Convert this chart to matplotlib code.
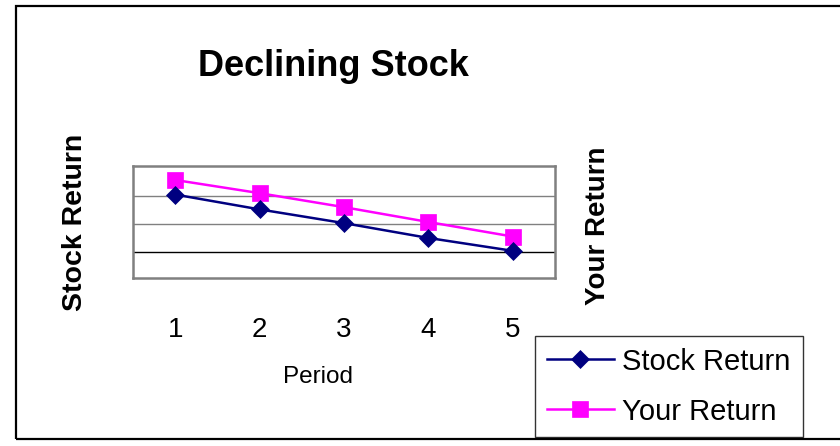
import matplotlib.pyplot as plt
from matplotlib.patches import Rectangle

plt.rcParams['font.family'] = ['Liberation Sans', 'DejaVu Sans']

# Returns per period
periods = [1, 2, 3, 4, 5]
stock_return = [0.205, 0.152, 0.103, 0.05, 0.004]
your_return = [0.257, 0.21, 0.16, 0.107, 0.055]

W, H = 840, 446
fig = plt.figure(figsize=(W / 100, H / 100), dpi=100)

def fx(px):
    return px / W

def fy(py):
    return 1 - py / H

# outer chart border (right edge runs off the canvas)
fig.patches.append(Rectangle((fx(15.5), fy(439)), fx(840) - fx(15.5) + 0.02, fy(6) - fy(439),
                             transform=fig.transFigure, fill=False, edgecolor='black',
                             linewidth=1.6, zorder=0))

ax = fig.add_axes([fx(133), fy(278), fx(555) - fx(133), fy(166) - fy(278)])
ax.plot(periods, stock_return, color='#000080', linewidth=1.8, marker='D',
        markersize=9.5, markeredgewidth=0.5, label='Stock Return', zorder=4)
ax.plot(periods, your_return, color='#FF00FF', linewidth=1.8, marker='s',
        markersize=11, markeredgewidth=0.5, label='Your Return', zorder=3)

ax.set_xlim(0.5, 5.5)
ax.set_ylim(-0.093, 0.307)
for yv in [0.1, 0.2]:
    ax.axhline(yv, color='#808080', linewidth=1.0, zorder=1)
ax.axhline(0.0, color='black', linewidth=1.0, zorder=1)

ax.set_yticks([])
ax.set_xticks(periods)
ax.set_xticklabels([str(p) for p in periods], fontsize=20)
ax.tick_params(axis='x', length=0, pad=28)
for s in ax.spines.values():
    s.set_color('#808080')
    s.set_linewidth(1.8)

fig.text(fx(333), fy(66), 'Declining Stock', fontsize=26, fontweight='bold',
         ha='center', va='center')
fig.text(fx(75), fy(222), 'Stock Return', fontsize=20.5, fontweight='bold',
         rotation=90, ha='center', va='center')
fig.text(fx(598), fy(226), 'Your Return', fontsize=20, fontweight='bold',
         rotation=90, ha='center', va='center')
fig.text(fx(318), fy(377), 'Period', fontsize=17.5, ha='center', va='center')

leg = ax.legend(loc='upper left', bbox_to_anchor=(fx(535), fy(336)),
                bbox_transform=fig.transFigure, fontsize=21, frameon=True,
                fancybox=False, edgecolor='black', handlelength=2.3,
                handletextpad=0.3, labelspacing=0.75, borderpad=0.4,
                borderaxespad=0)
leg.get_frame().set_linewidth(1.0)

fig.savefig('out.png', dpi=100)
